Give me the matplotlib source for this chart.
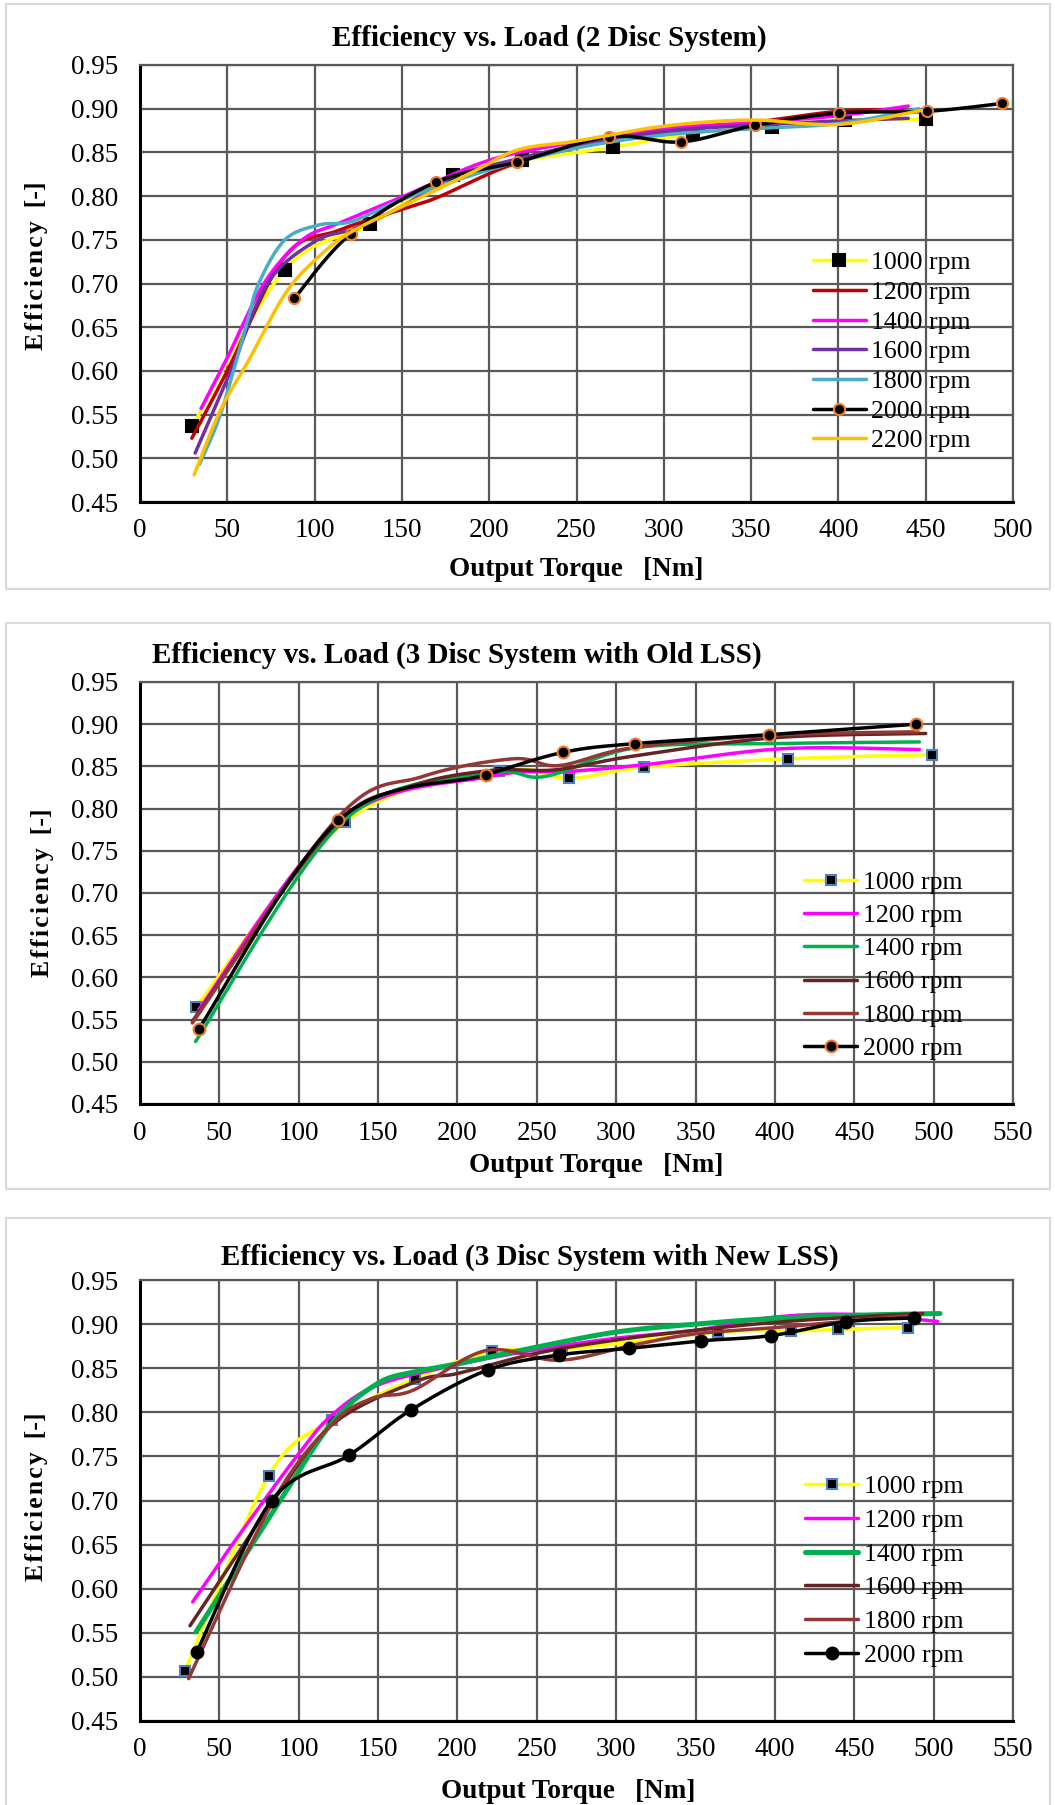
import numpy as np
import matplotlib
matplotlib.use("Agg")
import matplotlib.pyplot as plt
from matplotlib.patches import Rectangle

plt.rcParams['font.family'] = ['Liberation Serif', 'DejaVu Serif']

# ---------------- DATA ----------------
# Panel 1: 2 Disc System
p1_labels = ["1000 rpm", "1200 rpm", "1400 rpm", "1600 rpm", "1800 rpm", "2000 rpm", "2200 rpm"]
p1_1000_x = [30, 83, 132, 179, 219, 271, 317, 362, 404, 450]
p1_1000_y = [0.537, 0.716, 0.768, 0.824, 0.841, 0.856, 0.872, 0.879, 0.887, 0.888]
p1_1200_x = [29.7, 50, 83, 114, 152, 171, 209, 250, 300, 350, 400, 437]
p1_1200_y = [0.523, 0.600, 0.731, 0.761, 0.786, 0.799, 0.833, 0.858, 0.873, 0.884, 0.897, 0.899]
p1_1400_x = [35, 50, 71, 93, 114, 150, 200, 250, 300, 350, 400, 440]
p1_1400_y = [0.557, 0.615, 0.700, 0.750, 0.769, 0.799, 0.841, 0.862, 0.877, 0.884, 0.892, 0.903]
p1_1600_x = [31.6, 52, 73, 100, 123, 150, 179, 209, 250, 300, 350, 400, 440]
p1_1600_y = [0.506, 0.600, 0.700, 0.748, 0.763, 0.788, 0.822, 0.839, 0.858, 0.874, 0.881, 0.886, 0.889]
p1_1800_x = [34, 46, 60.6, 68, 83, 102.5, 121.5, 150, 200, 250, 300, 350, 400, 446]
p1_1800_y = [0.493, 0.550, 0.650, 0.700, 0.750, 0.767, 0.771, 0.796, 0.830, 0.855, 0.870, 0.877, 0.883, 0.900]
p1_2000_x = [88.4, 120.8, 169.7, 216.2, 268.7, 309.8, 352.3, 400.3, 450.8, 493.6]
p1_2000_y = [0.683, 0.757, 0.816, 0.839, 0.868, 0.862, 0.881, 0.895, 0.897, 0.906]
p1_2200_x = [31, 46, 62.5, 83.4, 102.5, 121, 150, 190, 216.7, 250, 300, 350, 400, 447.5]
p1_2200_y = [0.481, 0.555, 0.613, 0.689, 0.731, 0.759, 0.788, 0.827, 0.853, 0.863, 0.880, 0.887, 0.882, 0.898]

# Panel 2: 3 Disc System with Old LSS
p2_labels = ["1000 rpm", "1200 rpm", "1400 rpm", "1600 rpm", "1800 rpm", "2000 rpm"]
p2_1000_x = [35.3, 129, 226, 270, 317.5, 408, 499]
p2_1000_y = [0.565, 0.784, 0.845, 0.836, 0.849, 0.859, 0.864]
p2_1200_x = [37, 127, 220, 270, 318, 405, 491]
p2_1200_y = [0.562, 0.786, 0.838, 0.844, 0.852, 0.871, 0.870]
p2_1400_x = [35, 128, 218, 255, 312, 400, 491]
p2_1400_y = [0.524, 0.785, 0.842, 0.838, 0.872, 0.877, 0.879]
p2_1600_x = [33, 120, 170, 220, 262, 310, 400, 495]
p2_1600_y = [0.548, 0.775, 0.826, 0.845, 0.846, 0.862, 0.884, 0.889]
p2_1800_x = [33, 125, 178, 235, 264, 310, 400, 490]
p2_1800_y = [0.546, 0.790, 0.838, 0.859, 0.851, 0.872, 0.887, 0.891]
p2_2000_x = [36.9, 125, 217.8, 266.5, 311.6, 396.2, 488.7]
p2_2000_y = [0.5385, 0.786, 0.840, 0.8666, 0.877, 0.8876, 0.900]

# Panel 3: 3 Disc System with New LSS
p3_labels = ["1000 rpm", "1200 rpm", "1400 rpm", "1600 rpm", "1800 rpm", "2000 rpm"]
p3_1000_x = [28.5, 81, 121, 173, 222, 266, 364, 410, 440, 484]
p3_1000_y = [0.507, 0.728, 0.791, 0.838, 0.869, 0.871, 0.891, 0.892, 0.894, 0.896]
p3_1200_x = [33.2, 62.5, 100, 121, 150, 200, 250, 300, 350, 400, 450, 502.5]
p3_1200_y = [0.585, 0.661, 0.753, 0.797, 0.831, 0.854, 0.871, 0.884, 0.893, 0.908, 0.911, 0.903]
p3_1400_x = [35.3, 87.7, 121.3, 150, 173.7, 200, 250, 300, 350, 400, 450, 504]
p3_1400_y = [0.551, 0.698, 0.789, 0.833, 0.846, 0.855, 0.874, 0.891, 0.900, 0.9065, 0.910, 0.912]
p3_1600_x = [31.5, 62.5, 83.5, 121, 174, 200, 250, 300, 350, 400, 450, 493]
p3_1600_y = [0.558, 0.642, 0.698, 0.786, 0.835, 0.844, 0.867, 0.882, 0.893, 0.902, 0.908, 0.912]
p3_1800_x = [30.6, 83.5, 121, 146.5, 172, 218, 264, 310, 350, 400, 450, 491]
p3_1800_y = [0.498, 0.698, 0.787, 0.816, 0.825, 0.870, 0.859, 0.876, 0.889, 0.896, 0.904, 0.911]
p3_2000_x = [35.7, 82.9, 131.8, 170.6, 219.1, 264, 308, 353.6, 397.8, 444.9, 487.9]
p3_2000_y = [0.528, 0.700, 0.7514, 0.8025, 0.848, 0.865, 0.8725, 0.881, 0.887, 0.9027, 0.907]

titles = ["Efficiency vs. Load (2 Disc System)",
          "Efficiency vs. Load (3 Disc System with Old LSS)",
          "Efficiency vs. Load (3 Disc System with New LSS)"]
xlabel_text = "Output Torque   [Nm]"
ylabel_text = "\u200a".join("Efficiency") + "  [-]"
yticks = [0.45, 0.50, 0.55, 0.60, 0.65, 0.70, 0.75, 0.80, 0.85, 0.90, 0.95]
p1_xticks = [0, 50, 100, 150, 200, 250, 300, 350, 400, 450, 500]
p23_xticks = [0, 50, 100, 150, 200, 250, 300, 350, 400, 450, 500, 550]

# ---------------- HELPERS ----------------
W, H = 1055, 1805
NSEG = 30


def smooth(x, y, n=NSEG):
    P = np.column_stack([x, y]).astype(float)
    pts = np.vstack([P[0], P, P[-1]])
    out = []
    t = np.linspace(0, 1, n, endpoint=False)[:, None]
    for i in range(1, len(pts) - 2):
        p0, p1, p2, p3 = pts[i - 1], pts[i], pts[i + 1], pts[i + 2]
        c1 = p1 + (p2 - p0) / 6.0
        c2 = p2 - (p3 - p1) / 6.0
        seg = (1 - t) ** 3 * p1 + 3 * (1 - t) ** 2 * t * c1 + 3 * (1 - t) * t ** 2 * c2 + t ** 3 * p2
        out.append(seg)
    out.append(P[-1:])
    S = np.vstack(out)
    marks = list(range(0, n * (len(x) - 1) + 1, n))
    return S[:, 0], S[:, 1], marks


def px_axes(left, right, top, bottom):
    return [left / W, 1 - bottom / H, (right - left) / W, (bottom - top) / H]


GRID = '#595959'
FS_TICK = 19.5
FS_TITLE = 21
FS_LAB = 19.5
FS_LEG = 18.5

fig = plt.figure(figsize=(W / 100, H / 100), dpi=100)

# panel frames
for (top, bot) in [(4, 589), (623, 1189), (1218, 1820)]:
    fig.add_artist(Rectangle((6 / W, 1 - bot / H), 1044 / W, (bot - top) / H,
                             transform=fig.transFigure, fill=False,
                             edgecolor='#D9D9D9', linewidth=1.5))


def setup_axes(ax, xmax, xticks, pad_x):
    ax.set_xlim(0, xmax)
    ax.set_ylim(0.45, 0.95)
    ax.set_xticks(xticks)
    ax.set_yticks(yticks)
    ax.set_yticklabels([f"{v:.2f}" for v in yticks])
    ax.grid(True, color=GRID, linewidth=1.6)
    ax.set_axisbelow(True)
    ax.tick_params(axis='both', length=0, labelsize=FS_TICK)
    ax.tick_params(axis='y', pad=16)
    ax.tick_params(axis='x', pad=pad_x)
    for s in ['top', 'right']:
        ax.spines[s].set_color(GRID)
        ax.spines[s].set_linewidth(1.6)
    for s in ['left', 'bottom']:
        ax.spines[s].set_color('black')
        ax.spines[s].set_linewidth(2.2)


def draw(ax, x, y, color, lw=2.5, marker=None, ms=8, mfc='black', mec='black', mew=1.5, label=None):
    sx, sy, marks = smooth(x, y)
    kw = {}
    if marker:
        kw = dict(marker=marker, markevery=marks, markersize=ms, markerfacecolor=mfc,
                  markeredgecolor=mec, markeredgewidth=mew)
    ax.plot(sx, sy, color=color, linewidth=lw, solid_capstyle='round', label=label, **kw)


ORANGE = '#ED7D31'
BLUEEDGE = '#4F81BD'

# ---- Panel 1 ----
ax1 = fig.add_axes(px_axes(140, 1013, 65, 502))
setup_axes(ax1, 500, p1_xticks, 11.5)
draw(ax1, p1_1000_x, p1_1000_y, '#FFFF00', marker='s', ms=8.5, label=p1_labels[0])
draw(ax1, p1_1200_x, p1_1200_y, '#C00000', label=p1_labels[1])
draw(ax1, p1_1400_x, p1_1400_y, '#FF00FF', label=p1_labels[2])
draw(ax1, p1_1600_x, p1_1600_y, '#7030A0', label=p1_labels[3])
draw(ax1, p1_1800_x, p1_1800_y, '#4BACC6', label=p1_labels[4])
draw(ax1, p1_2000_x, p1_2000_y, 'black', marker='o', ms=8, mec=ORANGE, label=p1_labels[5])
draw(ax1, p1_2200_x, p1_2200_y, '#FFC000', label=p1_labels[6])
ax1.legend(loc='upper left', bbox_to_anchor=(0.7706, 0.5737), frameon=False,
           fontsize=FS_LEG, borderpad=0, borderaxespad=0, handlelength=2.06,
           handletextpad=0.22, labelspacing=0.26)

# ---- Panel 2 ----
ax2 = fig.add_axes(px_axes(140, 1013, 682, 1104))
setup_axes(ax2, 550, p23_xticks, 12.2)
draw(ax2, p2_1000_x, p2_1000_y, '#FFFF00', marker='s', ms=7.5, mec=BLUEEDGE, label=p2_labels[0])
draw(ax2, p2_1200_x, p2_1200_y, '#FF00FF', label=p2_labels[1])
draw(ax2, p2_1400_x, p2_1400_y, '#00B050', label=p2_labels[2])
draw(ax2, p2_1600_x, p2_1600_y, '#632523', label=p2_labels[3])
draw(ax2, p2_1800_x, p2_1800_y, '#953735', label=p2_labels[4])
draw(ax2, p2_2000_x, p2_2000_y, 'black', marker='o', ms=8.5, mec=ORANGE, label=p2_labels[5])
ax2.legend(loc='upper left', bbox_to_anchor=(0.761, 0.5528), frameon=False,
           fontsize=FS_LEG, borderpad=0, borderaxespad=0, handlelength=2.06,
           handletextpad=0.22, labelspacing=0.40)

# ---- Panel 3 ----
ax3 = fig.add_axes(px_axes(140, 1013, 1280, 1721))
setup_axes(ax3, 550, p23_xticks, 11.5)
draw(ax3, p3_1000_x, p3_1000_y, '#FFFF00', marker='s', ms=7.5, mec=BLUEEDGE, label=p3_labels[0])
draw(ax3, p3_1200_x, p3_1200_y, '#FF00FF', label=p3_labels[1])
draw(ax3, p3_1400_x, p3_1400_y, '#00B050', lw=3.6, label=p3_labels[2])
draw(ax3, p3_1600_x, p3_1600_y, '#632523', label=p3_labels[3])
draw(ax3, p3_1800_x, p3_1800_y, '#953735', label=p3_labels[4])
draw(ax3, p3_2000_x, p3_2000_y, 'black', marker='o', ms=8.5, label=p3_labels[5])
ax3.legend(loc='upper left', bbox_to_anchor=(0.762, 0.5578), frameon=False,
           fontsize=FS_LEG, borderpad=0, borderaxespad=0, handlelength=2.06,
           handletextpad=0.22, labelspacing=0.42)

# ---- Titles and axis labels (figure pixel positions) ----
def ftext(xp, yp, s, **kw):
    fig.text(xp / W, 1 - yp / H, s, ha='center', va='center', **kw)

ftext(549, 38, titles[0], fontsize=FS_TITLE, fontweight='bold')
ftext(457, 655, titles[1], fontsize=FS_TITLE, fontweight='bold')
ftext(530, 1257, titles[2], fontsize=FS_TITLE, fontweight='bold')

ftext(576, 570, xlabel_text, fontsize=FS_LAB, fontweight='bold')
ftext(596, 1166, xlabel_text, fontsize=FS_LAB, fontweight='bold')
ftext(568, 1792, xlabel_text, fontsize=FS_LAB, fontweight='bold')

ftext(37, 266, ylabel_text, fontsize=18.5, fontweight='bold', rotation=90)
ftext(43, 893, ylabel_text, fontsize=18.5, fontweight='bold', rotation=90)
ftext(37, 1497, ylabel_text, fontsize=18.5, fontweight='bold', rotation=90)

fig.savefig('out.png', dpi=100, facecolor='white')
